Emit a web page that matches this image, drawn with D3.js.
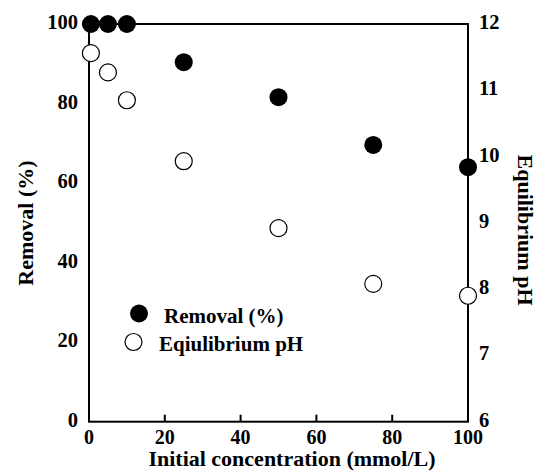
<!DOCTYPE html>
<html><head><meta charset="utf-8">
<script src="https://cdn.jsdelivr.net/npm/d3@7"></script>
<style>body{margin:0;background:#fff;} text{font-family:"Liberation Serif","Times New Roman",serif;font-weight:bold;fill:#000;}</style>
</head><body><svg id="c" width="537" height="471"></svg>
<script>
const concentration = [0.5, 5, 10, 25, 50, 75, 100];
const removal = [100, 100, 100, 90.4, 81.6, 69.6, 64.0];
const equilibriumPH = [11.56, 11.27, 10.85, 9.93, 8.92, 8.08, 7.90];
const xTicks = [0, 20, 40, 60, 80, 100];
const yLeftTicks = [0, 20, 40, 60, 80, 100];
const yRightTicks = [6, 7, 8, 9, 10, 11, 12];
const legendLabels = ["Removal (%)", "Eqiulibrium pH"];

const svg = d3.select("#c");
const L = 89, R = 468, T = 24, B = 421.7;
const x = d3.scaleLinear().domain([0, 100]).range([L, R]);
const yL = d3.scaleLinear().domain([0, 100]).range([B, T]);
const yR = d3.scaleLinear().domain([6, 12]).range([B, T]);

// frame
svg.append("rect").attr("x", L).attr("y", T).attr("width", R - L).attr("height", B - T)
  .attr("fill", "none").attr("stroke", "#000").attr("stroke-width", 2);

// bottom inner ticks
svg.selectAll("line.xt").data(xTicks.filter(d => d > 0 && d < 100)).enter().append("line")
  .attr("x1", d => x(d)).attr("x2", d => x(d)).attr("y1", B).attr("y2", B - 7)
  .attr("stroke", "#000").attr("stroke-width", 2);

svg.selectAll("text.xl").data(xTicks).enter().append("text")
  .attr("x", d => x(d)).attr("y", 444).attr("text-anchor", "middle")
  .style("font-size", "20px").text(d => d);

svg.selectAll("text.yl").data(yLeftTicks).enter().append("text")
  .attr("x", 78).attr("y", d => yL(d) + 5).attr("text-anchor", "end")
  .style("font-size", "20.5px").text(d => d);

svg.selectAll("text.yr").data(yRightTicks).enter().append("text")
  .attr("x", 479).attr("y", d => yR(d) + 5).attr("text-anchor", "start")
  .style("font-size", "20.5px").text(d => d);

// titles
svg.append("text").attr("x", 292).attr("y", 466).attr("text-anchor", "middle")
  .style("font-size", "22px").text("Initial concentration (mmol/L)");
svg.append("text").attr("transform", "translate(33,223) rotate(-90)").attr("text-anchor", "middle")
  .style("font-size", "22px").text("Removal (%)");
svg.append("text").attr("transform", "translate(518,230) rotate(90)").attr("text-anchor", "middle")
  .style("font-size", "22px").text("Equilibrium pH");

// data
const idx = d3.range(concentration.length);
svg.selectAll("circle.ph").data(idx).enter().append("circle")
  .attr("cx", i => x(concentration[i])).attr("cy", i => yR(equilibriumPH[i])).attr("r", 8.5)
  .attr("fill", "#fff").attr("stroke", "#000").attr("stroke-width", 1.2);
svg.selectAll("circle.rm").data(idx).enter().append("circle")
  .attr("cx", i => x(concentration[i])).attr("cy", i => yL(removal[i])).attr("r", 9)
  .attr("fill", "#000");

// legend
svg.append("circle").attr("cx", 139).attr("cy", 313.5).attr("r", 9).attr("fill", "#000");
svg.append("circle").attr("cx", 133.5).attr("cy", 342).attr("r", 8.5).attr("fill", "#fff")
  .attr("stroke", "#000").attr("stroke-width", 1.2);
svg.append("text").attr("x", 164).attr("y", 323).style("font-size", "21px").text(legendLabels[0]);
svg.append("text").attr("x", 159).attr("y", 351).style("font-size", "21px").text(legendLabels[1]);
</script></body></html>
